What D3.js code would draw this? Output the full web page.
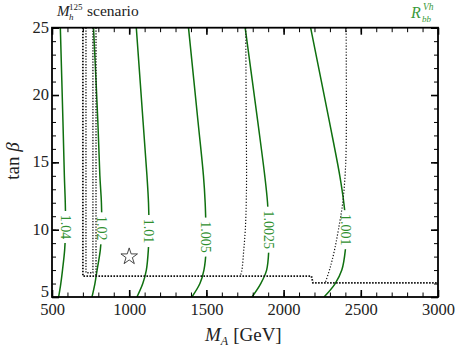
<!DOCTYPE html>
<html>
<head>
<meta charset="utf-8">
<script src="https://cdn.jsdelivr.net/npm/d3@7"></script>
<style>
  body { margin: 0; background: #fff; }
  svg text { font-family: "Liberation Serif", "DejaVu Serif", serif; }
</style>
</head>
<body>
<svg id="chart" width="463" height="351"></svg>
<script>
// contour levels of R_bb^Vh, sampled on a common tan(beta) grid
var levels = ['1.04', '1.02', '1.01', '1.005', '1.0025', '1.001'];
var tanbGrid = [25, 18, 14, 12, 10, 8.5, 7, 6, 5];
var ma104   = [554, 571, 580, 586, 588, 582, 568, 557, 543];
var ma102   = [769, 797, 810, 820, 822, 813, 792, 778, 759];
var ma101   = [1046, 1090, 1115, 1125, 1128, 1124, 1111, 1088, 1050];
var ma1005  = [1384, 1446, 1481, 1492, 1497, 1498, 1484, 1458, 1406];
var ma10025 = [1751, 1833, 1878, 1896, 1904, 1904, 1890, 1852, 1795];
var ma1001  = [2175, 2297, 2364, 2390, 2406, 2400, 2377, 2334, 2262];
var contourMA = [ma104, ma102, ma101, ma1005, ma10025, ma1001];
// where the inline labels sit (tan beta)
var labelTanb = [10.2, 10.1, 9.9, 9.45, 10.0, 10.0];

// dotted exclusion boundaries
var boundMA   = [700, 700, 2180, 2190, 3000];
var boundTanb = [25, 6.55, 6.55, 6.05, 6.05];
var innerMA   = [720, 720, 765, 765];
var innerTanb = [25, 6.8, 6.8, 25];
var edgeMA    = [785, 785];
var edgeTanb  = [25, 6.55];
var midMA     = [1755, 1758, 1760, 1758, 1752, 1742, 1730, 1720];
var midTanb   = [25, 18, 14, 12, 10, 8.5, 7, 6.55];
var rightMA   = [2405, 2405, 2398, 2383, 2355, 2330, 2302, 2270];
var rightTanb = [25, 16, 14, 12, 10, 8.5, 7.2, 6.05];

// benchmark point
var starMA = 1000, starTanb = 8;

var xTicks = [500, 1000, 1500, 2000, 2500, 3000];
var yTicks = [5, 10, 15, 20, 25];

var svg = d3.select('#chart');
var m = {left: 52, right: 438, top: 27.7, bottom: 297};
var x = d3.scaleLinear().domain([500, 3000]).range([m.left, m.right]);
var y = d3.scaleLinear().domain([5, 25]).range([m.bottom, m.top]);

var green = '#0f700f';
var labelGreen = '#2f8f2f';

svg.append('defs').append('clipPath').attr('id', 'plot')
  .append('rect').attr('x', m.left).attr('y', m.top)
  .attr('width', m.right - m.left).attr('height', m.bottom - m.top);

/************ contour lines with label gaps ************/
var mask = svg.select('defs').append('mask').attr('id', 'gaps');
mask.append('rect').attr('width', 463).attr('height', 351).attr('fill', '#fff');

function maAt(arr, t) {
  for (var i = 0; i < tanbGrid.length - 1; i++) {
    var a = tanbGrid[i], b = tanbGrid[i + 1];
    if (t <= a && t >= b) return arr[i] + (arr[i + 1] - arr[i]) * (a - t) / (a - b);
  }
  return arr[0];
}

var line = d3.line().curve(d3.curveCatmullRom.alpha(0.5))
  .x(function(d) { return x(d[0]); })
  .y(function(d) { return y(d[1]); });

var cg = svg.append('g').attr('clip-path', 'url(#plot)')
  .append('g').attr('mask', 'url(#gaps)');

levels.forEach(function(lv, i) {
  var pts = tanbGrid.map(function(t, j) { return [contourMA[i][j], t]; });
  cg.append('path').attr('d', line(pts))
    .attr('fill', 'none').attr('stroke', green).attr('stroke-width', 1.5);
});

/************ dotted boundaries ************/
var dg = svg.append('g').attr('clip-path', 'url(#plot)');
function dotted(ma, tb, w, dash, curved) {
  var l = d3.line().x(function(d) { return x(d[0]); }).y(function(d) { return y(d[1]); });
  if (curved) l.curve(d3.curveCatmullRom.alpha(0.5));
  dg.append('path').attr('d', l(ma.map(function(v, i) { return [v, tb[i]]; })))
    .attr('fill', 'none').attr('stroke', '#111').attr('stroke-width', w)
    .attr('stroke-dasharray', dash);
}
dotted(boundMA, boundTanb, 1.8, '1.6,1.4', false);
dotted(innerMA, innerTanb, 1.3, '1.3,1.5', false);
dotted(edgeMA, edgeTanb, 1.3, '1.3,1.5', false);
dotted(midMA, midTanb, 1.2, '1.2,1.8', true);
dotted(rightMA, rightTanb, 1.2, '1.2,1.8', true);

/************ contour labels ************/
levels.forEach(function(lv, i) {
  var t = labelTanb[i];
  var px = x(maAt(contourMA[i], t)), py = y(t);
  var w = lv.length * 7;
  mask.append('rect').attr('x', px - 5).attr('y', py - w / 2 - 2)
    .attr('width', 10).attr('height', w + 4).attr('fill', '#000');
  svg.append('text').attr('transform', 'translate(' + px + ',' + py + ') rotate(90)')
    .attr('text-anchor', 'middle').attr('dy', '0.35em')
    .attr('font-size', 14).attr('fill', labelGreen).text(lv);
});

/************ star ************/
svg.append('path')
  .attr('d', d3.symbol().type(d3.symbolStar).size(85)())
  .attr('transform', 'translate(' + x(starMA) + ',' + y(starTanb) + ')')
  .attr('fill', 'none').attr('stroke', '#333').attr('stroke-width', 0.9);

/************ axes ************/
var minorX = d3.range(500, 3001, 100), minorY = d3.range(5, 26, 1);
function axis(gen, tr, ticks, len, labels) {
  var g = svg.append('g').attr('transform', tr)
    .call(gen.tickValues(ticks).tickSizeInner(-len).tickSizeOuter(0)
      .tickFormat(labels ? d3.format('d') : ''));
  g.select('.domain').remove();
  g.selectAll('.tick line').attr('stroke', '#000').attr('stroke-width', len > 5 ? 1.6 : 1);
  g.selectAll('text').attr('font-size', 16.5).attr('fill', '#222');
  return g;
}
axis(d3.axisBottom(x).tickPadding(6), 'translate(0,' + m.bottom + ')', minorX, 4.5, false);
axis(d3.axisBottom(x).tickPadding(6), 'translate(0,' + m.bottom + ')', xTicks, 7, true);
axis(d3.axisTop(x), 'translate(0,' + m.top + ')', minorX, 4.5, false);
axis(d3.axisTop(x), 'translate(0,' + m.top + ')', xTicks, 7, false);
axis(d3.axisLeft(y).tickPadding(3), 'translate(' + m.left + ',0)', minorY, 4, false);
var yAx = axis(d3.axisLeft(y).tickPadding(3), 'translate(' + m.left + ',0)', yTicks, 7, true);
yAx.selectAll('text').attr('dy', function(d) { return d === 5 ? '-0.06em' : '0.27em'; });
axis(d3.axisRight(y), 'translate(' + m.right + ',0)', minorY, 4, false);
axis(d3.axisRight(y), 'translate(' + m.right + ',0)', yTicks, 7, false);

svg.append('rect').attr('x', m.left).attr('y', m.top)
  .attr('width', m.right - m.left).attr('height', m.bottom - m.top)
  .attr('fill', 'none').attr('stroke', '#000').attr('stroke-width', 1.8);

/************ axis titles ************/
var xl = svg.append('text').attr('x', 205).attr('y', 341).attr('font-size', 19).attr('fill', '#222');
xl.append('tspan').attr('font-style', 'italic').text('M');
xl.append('tspan').attr('font-size', 12).attr('font-style', 'italic').attr('dy', 4).text('A');
xl.append('tspan').attr('dy', -4).attr('dx', 5).text('[GeV]');

var yl = svg.append('text').attr('transform', 'translate(19,161) rotate(-90)')
  .attr('text-anchor', 'middle').attr('font-size', 19).attr('fill', '#222');
yl.append('tspan').text('tan ');
yl.append('tspan').attr('font-style', 'italic').text('β');

/************ header texts ************/
svg.append('text').attr('x', 57).attr('y', 16).attr('font-size', 15)
  .attr('font-style', 'italic').attr('fill', '#222').text('M');
svg.append('text').attr('x', 69).attr('y', 20).attr('font-size', 9)
  .attr('font-style', 'italic').attr('fill', '#222').text('h');
svg.append('text').attr('x', 69).attr('y', 10).attr('font-size', 9)
  .attr('fill', '#222').text('125');
svg.append('text').attr('x', 87).attr('y', 16).attr('font-size', 15.5)
  .attr('fill', '#222').text('scenario');

svg.append('text').attr('x', 411).attr('y', 18).attr('font-size', 16)
  .attr('font-style', 'italic').attr('fill', '#3a9a3a').text('R');
svg.append('text').attr('x', 422).attr('y', 22).attr('font-size', 9)
  .attr('font-style', 'italic').attr('fill', '#3a9a3a').text('bb');
svg.append('text').attr('x', 423).attr('y', 10).attr('font-size', 9.5)
  .attr('font-style', 'italic').attr('fill', '#3a9a3a').text('Vh');
</script>
</body>
</html>
